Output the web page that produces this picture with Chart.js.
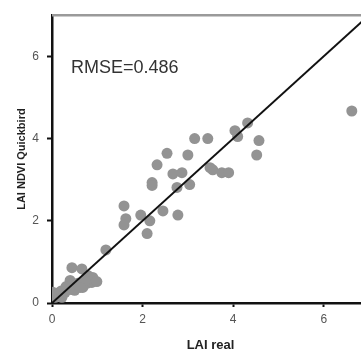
<!DOCTYPE html>
<html>
<head>
<meta charset="utf-8">
<script src="https://cdn.jsdelivr.net/npm/chart.js@4/dist/chart.umd.min.js"></script>
<style>
html,body{margin:0;padding:0;overflow:hidden;background:#fff;width:361px;height:352px;}
canvas{display:block;}
</style>
</head>
<body>
<canvas id="c" width="380" height="352"></canvas>
<script>
const laiReal = [0.02,0.07,0.13,0.2,0.29,0.4,0.5,0.4,0.44,0.66,0.57,0.68,0.77,0.79,0.88,0.9,0.73,0.62,0.99,0.22,0.31,1.19,
  1.59,1.63,1.59,1.96,2.16,2.1,2.45,2.78,2.21,2.21,2.32,2.54,2.76,3.04,2.67,2.87,3.0,3.15,3.44,3.49,3.55,3.75,3.9,4.04,4.1,4.32,4.57,4.52,6.62];
const laiQuickbird = [0.26,0.14,0.24,0.29,0.26,0.33,0.31,0.55,0.86,0.83,0.48,0.38,0.48,0.67,0.5,0.62,0.55,0.38,0.52,0.14,0.4,1.29,
  2.36,2.05,1.9,2.14,2.0,1.69,2.24,2.14,2.93,2.86,3.36,3.64,2.81,2.88,3.14,3.17,3.6,4.0,4.0,3.29,3.24,3.17,3.17,4.19,4.05,4.38,3.95,3.6,4.67];
const lineX = [0, 7];
const lineY = [0, 7];
const tickValues = [0, 2, 4, 6];
const xTitle = 'LAI real';
const yTitle = 'LAI NDVI Quickbird';
const annotationText = 'RMSE=0.486';

const points = laiReal.map((x, i) => ({x: x, y: laiQuickbird[i]}));
const line = lineX.map((x, i) => ({x: x, y: lineY[i]}));

const decor = {
  id: 'decor',
  afterDraw(chart) {
    const {ctx, chartArea} = chart;
    ctx.save();
    ctx.strokeStyle = '#9a9a9a';
    ctx.lineWidth = 2.5;
    ctx.beginPath();
    ctx.moveTo(chartArea.left, chartArea.top);
    ctx.lineTo(chartArea.right, chartArea.top);
    ctx.stroke();
    ctx.fillStyle = '#333';
    ctx.font = '18px Arial, "Liberation Sans", sans-serif';
    ctx.textBaseline = 'alphabetic';
    ctx.textAlign = 'left';
    const xs = chart.scales.x, ys = chart.scales.y;
    ctx.fillText(annotationText, xs.getPixelForValue(0.42), ys.getPixelForValue(5.6));
    ctx.restore();
  }
};

new Chart(document.getElementById('c'), {
  data: {
    datasets: [
      {type: 'line', data: line, borderColor: '#111', borderWidth: 2, pointRadius: 0, fill: false, order: 0},
      {type: 'scatter', data: points, backgroundColor: '#939393', borderWidth: 0, pointRadius: 5.5, pointHoverRadius: 5.5, order: 1}
    ]
  },
  options: {
    responsive: false,
    animation: false,
    events: [],
    layout: {padding: {left: 0, top: 10, right: 11, bottom: 0}},
    plugins: {legend: {display: false}, tooltip: {enabled: false}},
    scales: {
      x: {
        type: 'linear', min: 0, max: 7,
        afterFit(s) { s.height = 49; },
        afterBuildTicks(s) { s.ticks = tickValues.map(v => ({value: v})); },
        border: {display: true, color: '#111', width: 2.5},
        grid: {display: true, drawOnChartArea: false, drawTicks: true, tickLength: 4, color: '#111', tickWidth: 2},
        ticks: {color: '#555', font: {family: 'Arial, "Liberation Sans", sans-serif', size: 12}, padding: 5, maxRotation: 0},
        title: {display: true, text: xTitle, color: '#222', font: {family: 'Arial, "Liberation Sans", sans-serif', size: 13, weight: 'bold', lineHeight: 1}, padding: {top: 0, bottom: 0}}
      },
      y: {
        type: 'linear', min: 0, max: 7,
        afterFit(s) { s.width = 52; },
        afterBuildTicks(s) { s.ticks = tickValues.map(v => ({value: v})); },
        border: {display: true, color: '#111', width: 2.5},
        grid: {display: true, drawOnChartArea: false, drawTicks: true, tickLength: 5, color: '#111', tickWidth: 2},
        ticks: {color: '#555', font: {family: 'Arial, "Liberation Sans", sans-serif', size: 12}, padding: 8},
        title: {display: true, text: yTitle, color: '#222', font: {family: 'Arial, "Liberation Sans", sans-serif', size: 11, weight: 'bold', lineHeight: 1}, padding: {top: 16, bottom: 0}}
      }
    }
  },
  plugins: [decor]
});
</script>
</body>
</html>
